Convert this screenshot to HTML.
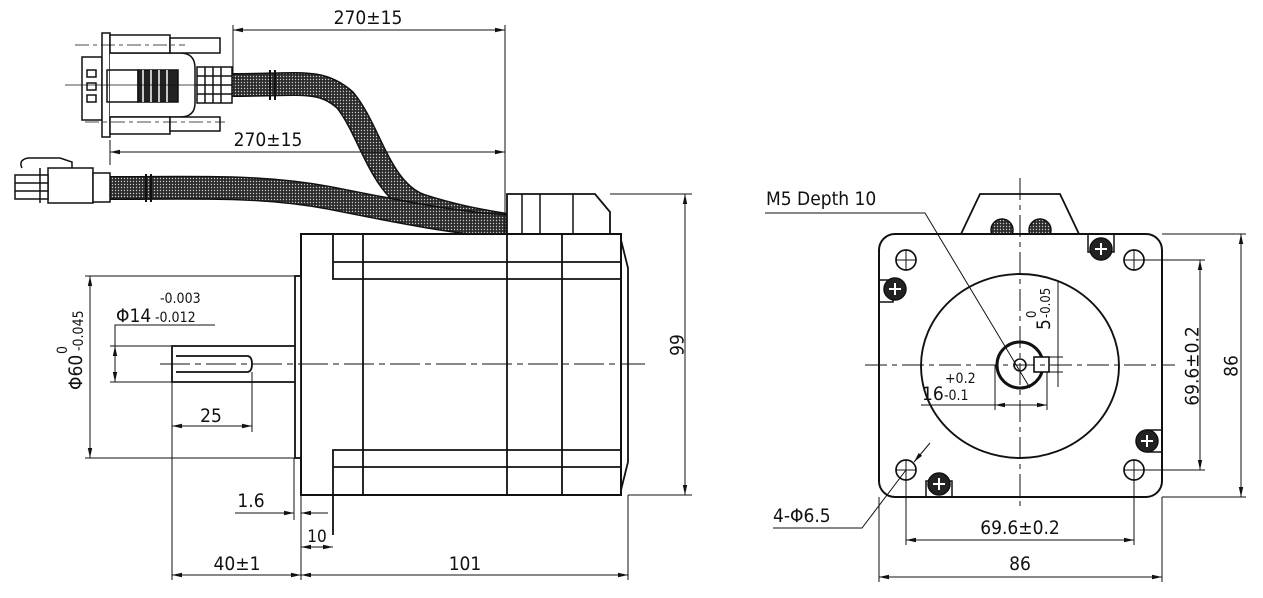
<!DOCTYPE html>
<html><head><meta charset="utf-8"><style>
html,body{margin:0;padding:0;background:#fff;}
svg{display:block;}
text{font-family:"DejaVu Sans Condensed","DejaVu Sans","Liberation Sans",sans-serif;fill:#111;}
</style></head><body>
<svg width="1263" height="598" viewBox="0 0 1263 598" xmlns="http://www.w3.org/2000/svg">
<defs>
<pattern id="h" width="3" height="3" patternUnits="userSpaceOnUse">
<rect width="3" height="3" fill="#2a2a2a"/><circle cx="1.5" cy="1.5" r="0.7" fill="#ccc"/></pattern>
<marker id="a" viewBox="0 0 10 6" refX="10" refY="3" markerWidth="10" markerHeight="6" orient="auto-start-reverse" markerUnits="userSpaceOnUse"><path d="M0,0.8 L10,3 L0,5.2z" fill="#111"/></marker>
</defs>
<g stroke="#111" fill="none" stroke-width="1.5">
<path d="M232,85 C300,85 320,78 345,100 C370,130 380,190 420,205 C460,218 490,222 507,225" stroke="#111" stroke-width="24"/>
<path d="M232,85 C300,85 320,78 345,100 C370,130 380,190 420,205 C460,218 490,222 507,225" stroke="url(#h)" stroke-width="21"/>
<path d="M110,188 C200,188 260,185 330,198 C400,212 460,224 507,226" stroke="#111" stroke-width="24"/>
<path d="M110,188 C200,188 260,185 330,198 C400,212 460,224 507,226" stroke="url(#h)" stroke-width="21"/>
<line x1="270" y1="70" x2="270" y2="100" stroke-width="2"/><line x1="275" y1="70" x2="275" y2="100" stroke-width="2"/>
<line x1="146" y1="174" x2="146" y2="202" stroke-width="2"/><line x1="151" y1="174" x2="151" y2="202" stroke-width="2"/>
<rect x="82" y="57" width="20" height="63" fill="#fff"/>
<rect x="87" y="70" width="9" height="7"/><rect x="87" y="83" width="9" height="7"/><rect x="87" y="95" width="9" height="7"/>
<rect x="102" y="33" width="8" height="104" fill="#fff"/>
<path d="M110,53 L180,53 Q195,53 195,68 L195,103 Q195,117 180,117 L110,117" fill="#fff"/>
<rect x="110" y="35" width="60" height="18" fill="#fff"/><rect x="170" y="38" width="50" height="15" fill="#fff"/>
<rect x="110" y="117" width="60" height="17" fill="#fff"/><rect x="170" y="117" width="50" height="14" fill="#fff"/>
<rect x="107" y="70" width="31" height="32"/>
<rect x="138" y="70" width="40" height="32" fill="#222"/>
<line x1="143" y1="70" x2="143" y2="102" stroke="#fff"/><line x1="151" y1="70" x2="151" y2="102" stroke="#fff"/><line x1="159" y1="70" x2="159" y2="102" stroke="#fff"/><line x1="167" y1="70" x2="167" y2="102" stroke="#fff"/>
<rect x="197" y="67" width="35" height="36" fill="#fff"/>
<line x1="205" y1="67" x2="205" y2="103"/><line x1="213" y1="67" x2="213" y2="103"/><line x1="221" y1="67" x2="221" y2="103"/>
<line x1="197" y1="76" x2="232" y2="76"/><line x1="197" y1="85" x2="232" y2="85"/><line x1="197" y1="94" x2="232" y2="94"/>
<line x1="65" y1="85" x2="215" y2="85" stroke-width="0.8"/>
<line x1="75" y1="45" x2="185" y2="45" stroke-width="0.8" stroke-dasharray="14,4,4,4"/>
<line x1="85" y1="122" x2="225" y2="122" stroke-width="0.8" stroke-dasharray="14,4,4,4"/>
<rect x="48" y="168" width="45" height="35" fill="#fff"/>
<rect x="93" y="173" width="17" height="29" fill="#fff"/>
<rect x="15" y="175" width="33" height="24" fill="#fff"/>
<line x1="15" y1="183" x2="48" y2="183"/><line x1="15" y1="191" x2="48" y2="191"/>
<path d="M22,168 Q18,160 28,158 L60,158 L72,162 L72,168"/>
<line x1="40" y1="168" x2="40" y2="203"/>
<line x1="233" y1="25" x2="233" y2="75" stroke-width="1"/>
<line x1="505" y1="25" x2="505" y2="234" stroke-width="1"/>
<line x1="233" y1="30" x2="505" y2="30" stroke-width="1" marker-start="url(#a)" marker-end="url(#a)"/>
<line x1="110" y1="140" x2="110" y2="165" stroke-width="1"/>
<line x1="110" y1="152" x2="505" y2="152" stroke-width="1" marker-start="url(#a)" marker-end="url(#a)"/>
<path d="M507,234 L507,194 L595,194 L610,212 L610,234" fill="#fff" stroke-width="1.8"/>
<line x1="522" y1="194" x2="522" y2="234"/><line x1="540" y1="194" x2="540" y2="234"/><line x1="573" y1="194" x2="573" y2="234"/>
<rect x="301" y="234" width="320" height="261" fill="#fff" stroke-width="2"/>
<path d="M621,240 L628,268 L628,462 L621,490" stroke-width="1.8"/>
<path d="M333,234 L333,279 L621,279 M333,262 L621,262" stroke-width="1.8"/>
<path d="M333,535 L333,450 L621,450 M333,467 L621,467" stroke-width="1.8"/>
<line x1="363" y1="234" x2="363" y2="495" stroke-width="1.8"/>
<line x1="507" y1="234" x2="507" y2="495" stroke-width="1.8"/>
<line x1="562" y1="234" x2="562" y2="495" stroke-width="1.8"/>
<rect x="295" y="276" width="6" height="182" fill="#fff" stroke-width="1.8"/>
<path d="M295,346 L172,346 L172,382 L295,382" stroke-width="1.8"/>
<path d="M176,356 L247,356 Q252,356 252,364 Q252,372 247,372 L176,372" stroke-width="1.8"/>
<line x1="160" y1="364" x2="645" y2="364" stroke-width="1" stroke-dasharray="30,5,6,5"/>
<line x1="610" y1="194" x2="692" y2="194" stroke-width="1"/>
<line x1="628" y1="495" x2="692" y2="495" stroke-width="1"/>
<line x1="685" y1="194" x2="685" y2="495" stroke-width="1" marker-start="url(#a)" marker-end="url(#a)"/>
<line x1="85" y1="276" x2="295" y2="276" stroke-width="1"/>
<line x1="85" y1="458" x2="295" y2="458" stroke-width="1"/>
<line x1="90" y1="276" x2="90" y2="458" stroke-width="1" marker-start="url(#a)" marker-end="url(#a)"/>
<line x1="110" y1="346" x2="172" y2="346" stroke-width="1"/>
<line x1="110" y1="382" x2="172" y2="382" stroke-width="1"/>
<line x1="115" y1="346" x2="115" y2="382" stroke-width="1" marker-start="url(#a)" marker-end="url(#a)"/>
<polyline points="115,346 115,325 215,325" stroke-width="1"/>
<line x1="172" y1="382" x2="172" y2="580" stroke-width="1"/>
<line x1="252" y1="372" x2="252" y2="432" stroke-width="1"/>
<line x1="172" y1="426" x2="252" y2="426" stroke-width="1" marker-start="url(#a)" marker-end="url(#a)"/>
<line x1="294" y1="458" x2="294" y2="520" stroke-width="1"/>
<line x1="301" y1="495" x2="301" y2="580" stroke-width="1"/>
<line x1="235" y1="513" x2="294" y2="513" stroke-width="1" marker-end="url(#a)"/>
<line x1="328" y1="513" x2="301" y2="513" stroke-width="1" marker-end="url(#a)"/>
<line x1="301" y1="547" x2="333" y2="547" stroke-width="1" marker-start="url(#a)" marker-end="url(#a)"/>
<line x1="628" y1="495" x2="628" y2="580" stroke-width="1"/>
<line x1="172" y1="575" x2="301" y2="575" stroke-width="1" marker-start="url(#a)" marker-end="url(#a)"/>
<line x1="301" y1="575" x2="628" y2="575" stroke-width="1" marker-start="url(#a)" marker-end="url(#a)"/>

<path d="M961,234 L980,194 L1060,194 L1079,234" stroke-width="1.8"/>
<circle cx="1002" cy="230" r="11" fill="url(#h)"/><circle cx="1040" cy="230" r="11" fill="url(#h)"/>
<rect x="879" y="234" width="283" height="263" rx="16" fill="#fff" stroke-width="2"/>
<ellipse cx="1020" cy="366" rx="99" ry="92" stroke-width="1.9"/>
<circle cx="1020" cy="365" r="23" stroke-width="3"/>
<circle cx="1020" cy="365" r="6" stroke-width="1.6"/>
<rect x="1034" y="357" width="15" height="15" fill="#fff" stroke-width="1.6"/>
<g stroke-width="1.7">
<circle cx="906" cy="260" r="10"/><path d="M896,260h20M906,250v20" stroke-width="1"/>
<circle cx="1134" cy="260" r="10"/><path d="M1124,260h20M1134,250v20" stroke-width="1"/>
<circle cx="906" cy="470" r="10"/><path d="M896,470h20M906,460v20" stroke-width="1"/>
<circle cx="1134" cy="470" r="10"/><path d="M1124,470h20M1134,460v20" stroke-width="1"/>
</g>
<g stroke-width="1.5">
<path d="M879,280 h14 v22 h-14"/><circle cx="895" cy="289" r="11" fill="#222"/><path d="M889,289h12M895,283v12" stroke="#fff" stroke-width="2"/>
<path d="M1088,234 v18 h26 v-18"/><circle cx="1101" cy="249" r="11" fill="#222"/><path d="M1095,249h12M1101,243v12" stroke="#fff" stroke-width="2"/>
<path d="M1162,430 h-14 v22 h14"/><circle cx="1147" cy="441" r="11" fill="#222"/><path d="M1141,441h12M1147,435v12" stroke="#fff" stroke-width="2"/>
<path d="M926,497 v-16 h26 v16"/><circle cx="939" cy="484" r="11" fill="#222"/><path d="M933,484h12M939,478v12" stroke="#fff" stroke-width="2"/>
</g>
<line x1="1020" y1="178" x2="1020" y2="508" stroke-width="1" stroke-dasharray="22,5,5,5"/>
<line x1="865" y1="365" x2="1175" y2="365" stroke-width="1" stroke-dasharray="22,5,5,5"/>
<polyline points="765,213 925,213 1030,388" stroke-width="1"/>
<polyline points="773,528 862,528 906,470" stroke-width="1"/>
<line x1="930" y1="443" x2="914" y2="462" stroke-width="1" marker-end="url(#a)"/>
<line x1="995" y1="365" x2="995" y2="410" stroke-width="1"/>
<line x1="1047" y1="372" x2="1047" y2="410" stroke-width="1"/>
<line x1="921" y1="405" x2="1047" y2="405" stroke-width="1"/>
<line x1="1000" y1="405" x2="995" y2="405" stroke-width="1" marker-end="url(#a)"/>
<line x1="1040" y1="405" x2="1047" y2="405" stroke-width="1" marker-end="url(#a)"/>
<line x1="1049" y1="357" x2="1063" y2="357" stroke-width="1"/><line x1="1049" y1="372" x2="1063" y2="372" stroke-width="1"/>
<line x1="1058" y1="280" x2="1058" y2="387" stroke-width="1"/>
<line x1="906" y1="480" x2="906" y2="545" stroke-width="1"/>
<line x1="1134" y1="480" x2="1134" y2="545" stroke-width="1"/>
<line x1="906" y1="540" x2="1134" y2="540" stroke-width="1" marker-start="url(#a)" marker-end="url(#a)"/>
<line x1="879" y1="497" x2="879" y2="582" stroke-width="1"/>
<line x1="1162" y1="497" x2="1162" y2="582" stroke-width="1"/>
<line x1="879" y1="577" x2="1162" y2="577" stroke-width="1" marker-start="url(#a)" marker-end="url(#a)"/>
<line x1="1144" y1="260" x2="1205" y2="260" stroke-width="1"/>
<line x1="1144" y1="470" x2="1205" y2="470" stroke-width="1"/>
<line x1="1200" y1="260" x2="1200" y2="470" stroke-width="1" marker-start="url(#a)" marker-end="url(#a)"/>
<line x1="1162" y1="234" x2="1246" y2="234" stroke-width="1"/>
<line x1="1162" y1="497" x2="1246" y2="497" stroke-width="1"/>
<line x1="1241" y1="234" x2="1241" y2="497" stroke-width="1" marker-start="url(#a)" marker-end="url(#a)"/>
</g>
<g font-size="19">
<text x="368" y="24" text-anchor="middle">270±15</text>
<text x="268" y="146" text-anchor="middle">270±15</text>
<text x="678" y="345" text-anchor="middle" transform="rotate(-90 678 345)" dominant-baseline="middle">99</text>
<text x="211" y="422" text-anchor="middle">25</text>
<text x="251" y="507" text-anchor="middle">1.6</text>
<text x="317" y="542" text-anchor="middle" font-size="17">10</text>
<text x="237" y="570" text-anchor="middle">40±1</text>
<text x="465" y="570" text-anchor="middle">101</text>
<text x="116" y="322">Φ14</text>
<text x="160" y="303" font-size="14">-0.003</text>
<text x="155" y="322" font-size="14">-0.012</text>
<g transform="rotate(-90 82 390)"><text x="82" y="390">Φ60</text><text x="118" y="375" font-size="14">0</text><text x="121" y="391" font-size="14">-0.045</text></g>
<text x="766" y="205">M5 Depth 10</text>
<text x="773" y="522">4-Φ6.5</text>
<text x="1020" y="534" text-anchor="middle">69.6±0.2</text>
<text x="1020" y="570" text-anchor="middle">86</text>
<text x="1193" y="366" text-anchor="middle" transform="rotate(-90 1193 366)" dominant-baseline="middle">69.6±0.2</text>
<text x="1232" y="366" text-anchor="middle" transform="rotate(-90 1232 366)" dominant-baseline="middle">86</text>
<text x="922" y="400">16</text>
<text x="945" y="383" font-size="14">+0.2</text>
<text x="944" y="400" font-size="14">-0.1</text>
<g transform="rotate(-90 1050 330)"><text x="1050" y="330">5</text><text x="1062" y="316" font-size="13">0</text><text x="1062" y="330" font-size="13">-0.05</text></g>
</g>
</svg>
</body></html>
